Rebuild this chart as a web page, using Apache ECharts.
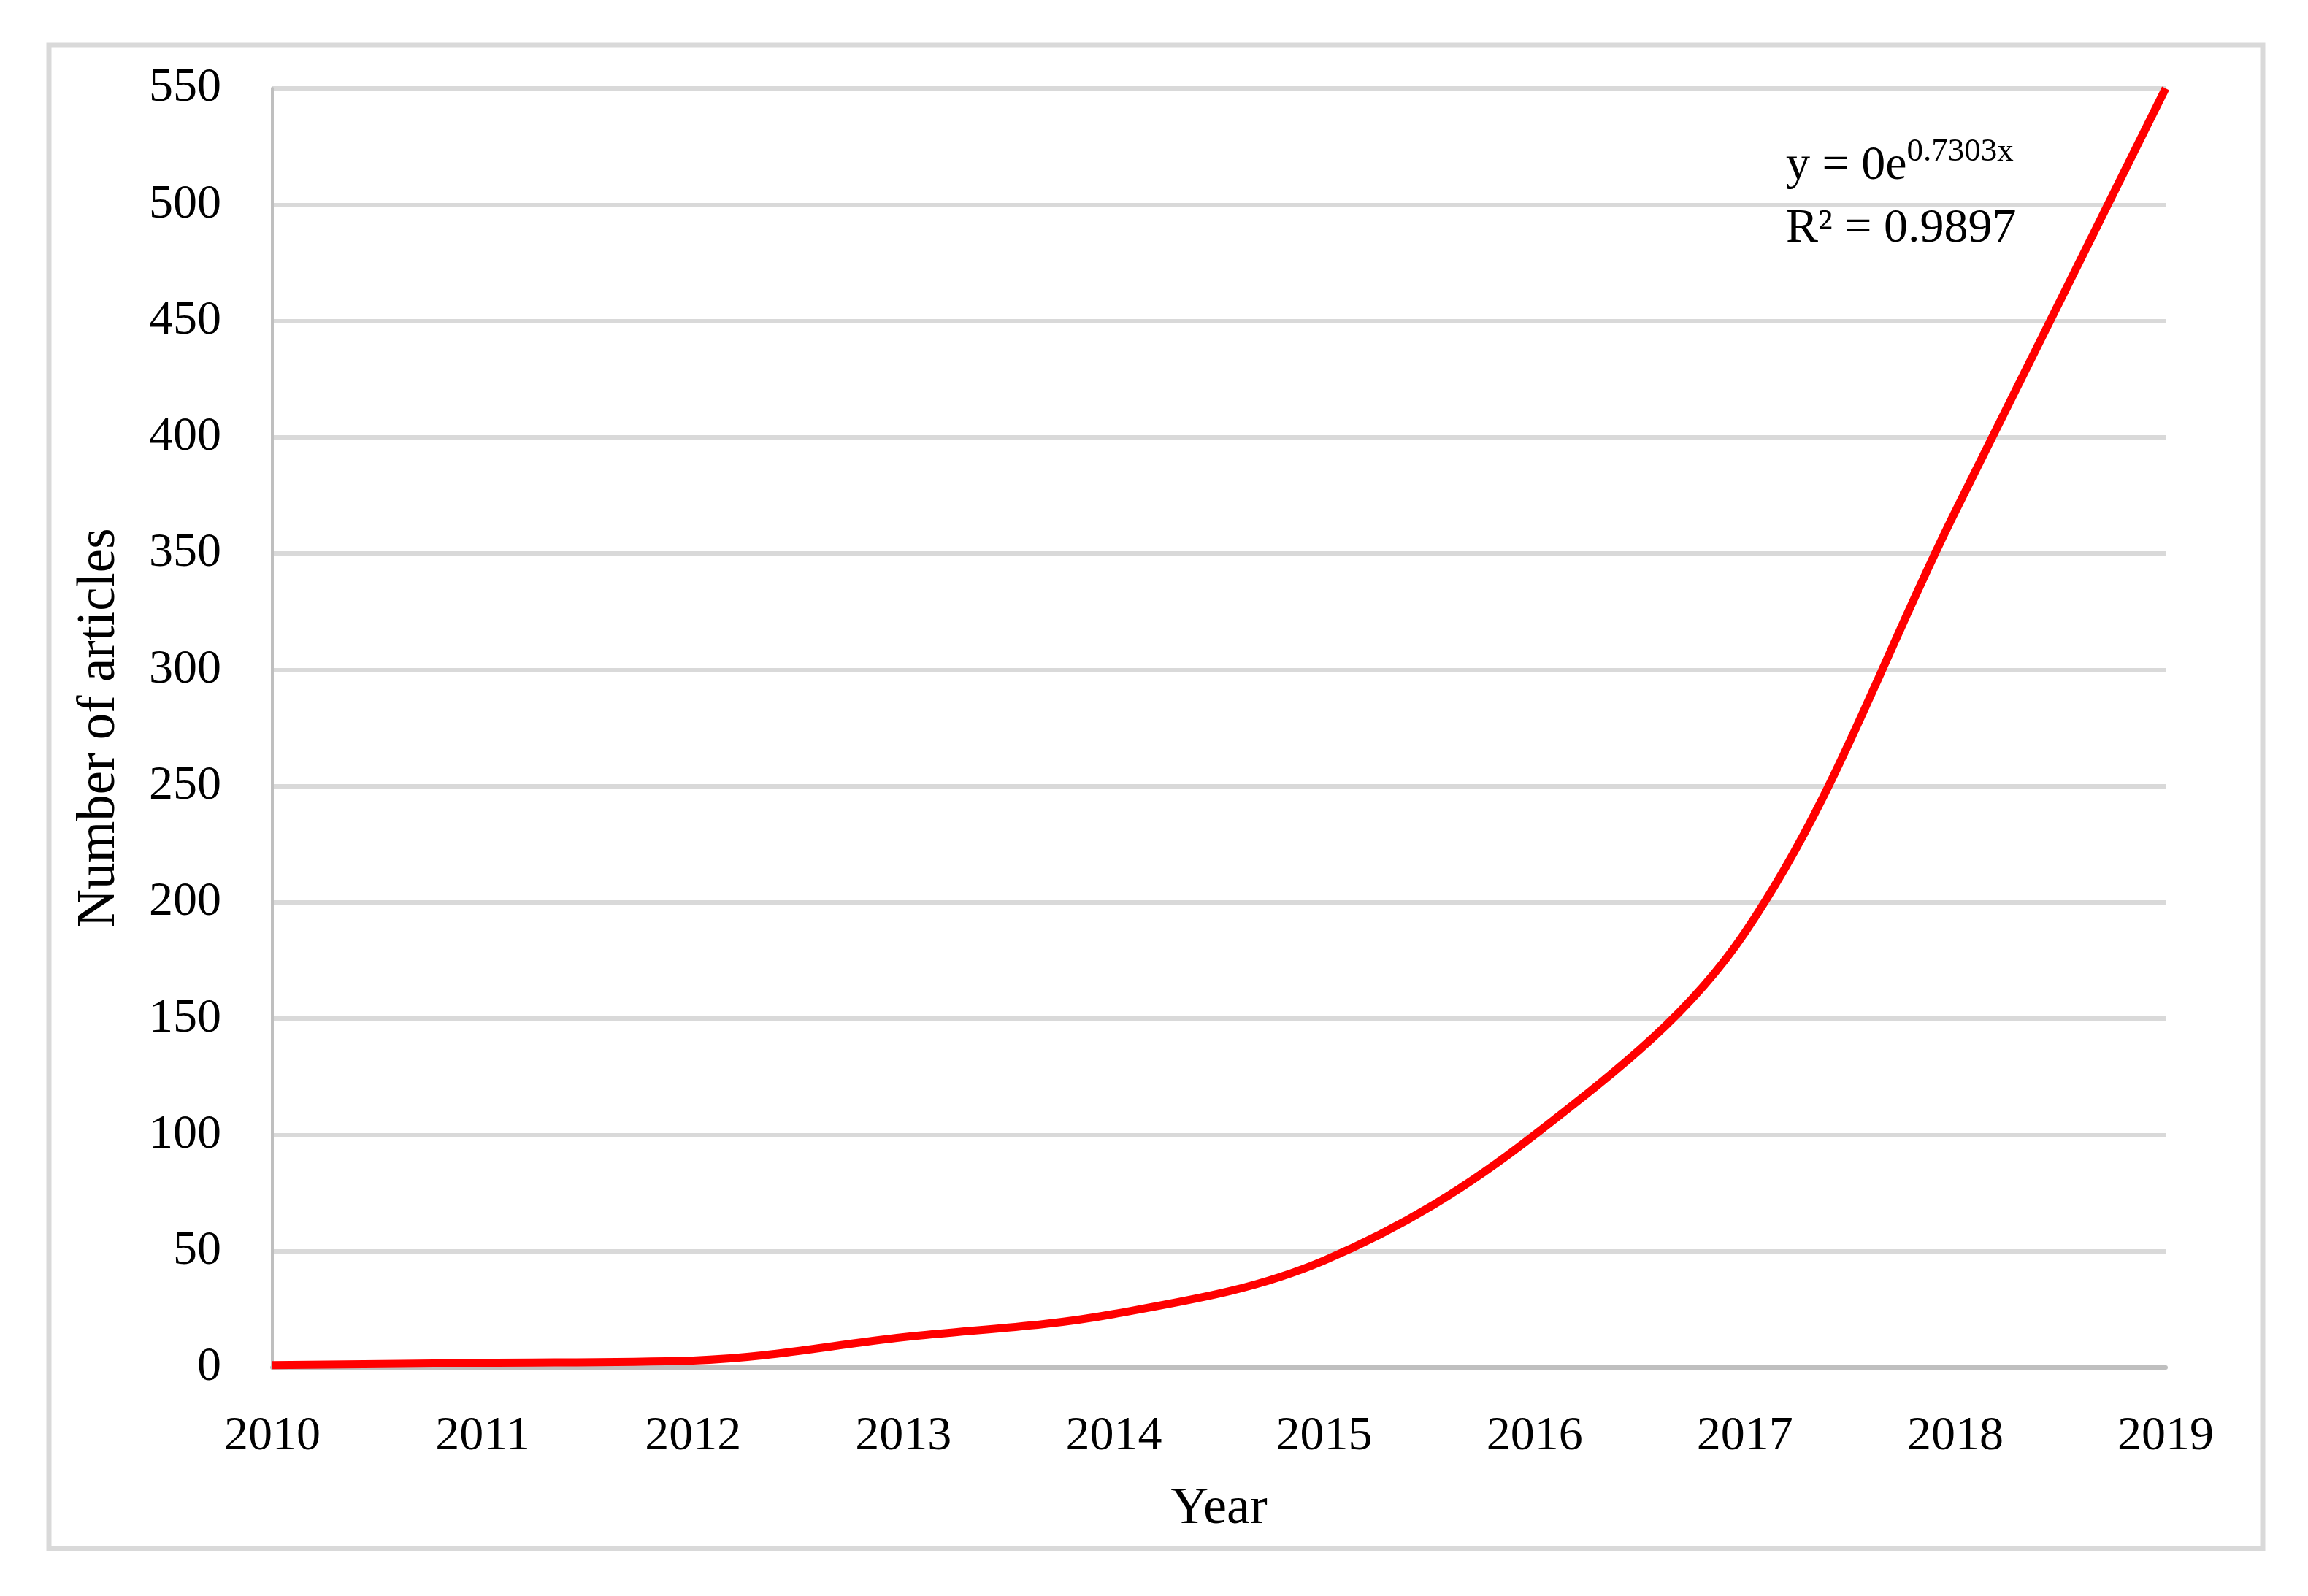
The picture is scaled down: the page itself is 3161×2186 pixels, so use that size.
<!DOCTYPE html>
<html>
<head>
<meta charset="utf-8">
<script src="https://cdn.jsdelivr.net/npm/echarts@6/dist/echarts.min.js"></script>
<style>
  html, body { margin: 0; padding: 0; background: #fff; }
  #main { width: 3161px; height: 2186px; }
</style>
</head>
<body>
<div id="main"></div>
<script>
// data
var years = ['2010', '2011', '2012', '2013', '2014', '2015', '2016', '2017', '2018', '2019'];
var articles = [1, 2, 3, 13, 23, 46, 100, 187, 368, 550];
var yTicks = { min: 0, max: 550, step: 50 };
var trendLine1 = 'y = 0e';
var trendExp = '0.7303x';
var trendLine2 = 'R² = 0.9897';

var font = 'Liberation Serif';
var myChart = echarts.init(document.getElementById('main'));

var option = {
    backgroundColor: '#fff',
    animation: false,
    grid: { left: 373, right: 195, top: 121, bottom: 313 },
    xAxis: {
        type: 'category',
        boundaryGap: false,
        data: years,
        name: 'Year',
        nameLocation: 'middle',
        nameGap: 158,
        nameTextStyle: { fontFamily: font, fontSize: 72, color: '#000' },
        axisLine: { show: true, lineStyle: { color: '#BFBFBF', width: 6 } },
        axisTick: { show: false },
        axisLabel: { margin: 62, fontFamily: font, fontSize: 66, color: '#000' },
        splitLine: { show: false }
    },
    yAxis: {
        type: 'value',
        min: yTicks.min,
        max: yTicks.max,
        interval: yTicks.step,
        name: 'Number of articles',
        nameLocation: 'middle',
        nameGap: 200,
        nameTextStyle: { fontFamily: font, fontSize: 73, color: '#000' },
        axisLine: { show: true, lineStyle: { color: '#BFBFBF', width: 4 } },
        axisTick: { show: false },
        axisLabel: { margin: 70, fontFamily: font, fontSize: 66, color: '#000' },
        splitLine: { show: true, lineStyle: { color: '#D9D9D9', width: 6 } }
    },
    graphic: [
        {
            type: 'rect',
            shape: { x: 67, y: 62, width: 3032, height: 2059 },
            style: { fill: 'none', stroke: '#D9D9D9', lineWidth: 7 },
            z: -1
        },
        {
            type: 'text',
            left: 2446,
            top: 186,
            z: 100,
            style: {
                text: '{a|' + trendLine1 + '}{b|' + trendExp + '}',
                rich: {
                    a: { fontFamily: font, fontSize: 66, color: '#000', verticalAlign: 'bottom' },
                    b: { fontFamily: font, fontSize: 45, color: '#000', verticalAlign: 'top', padding: [0, 0, 30, 0] }
                }
            }
        },
        {
            type: 'text',
            left: 2446,
            top: 281,
            z: 100,
            style: { text: trendLine2, font: '66px "Liberation Serif"', fill: '#000' }
        }
    ],
    series: [
        {
            name: 'Number of articles',
            type: 'line',
            smooth: 0.35,
            symbol: 'none',
            data: articles,
            lineStyle: { color: '#FF0000', width: 11 },
            z: 5
        }
    ]
};

myChart.setOption(option);
</script>
</body>
</html>
